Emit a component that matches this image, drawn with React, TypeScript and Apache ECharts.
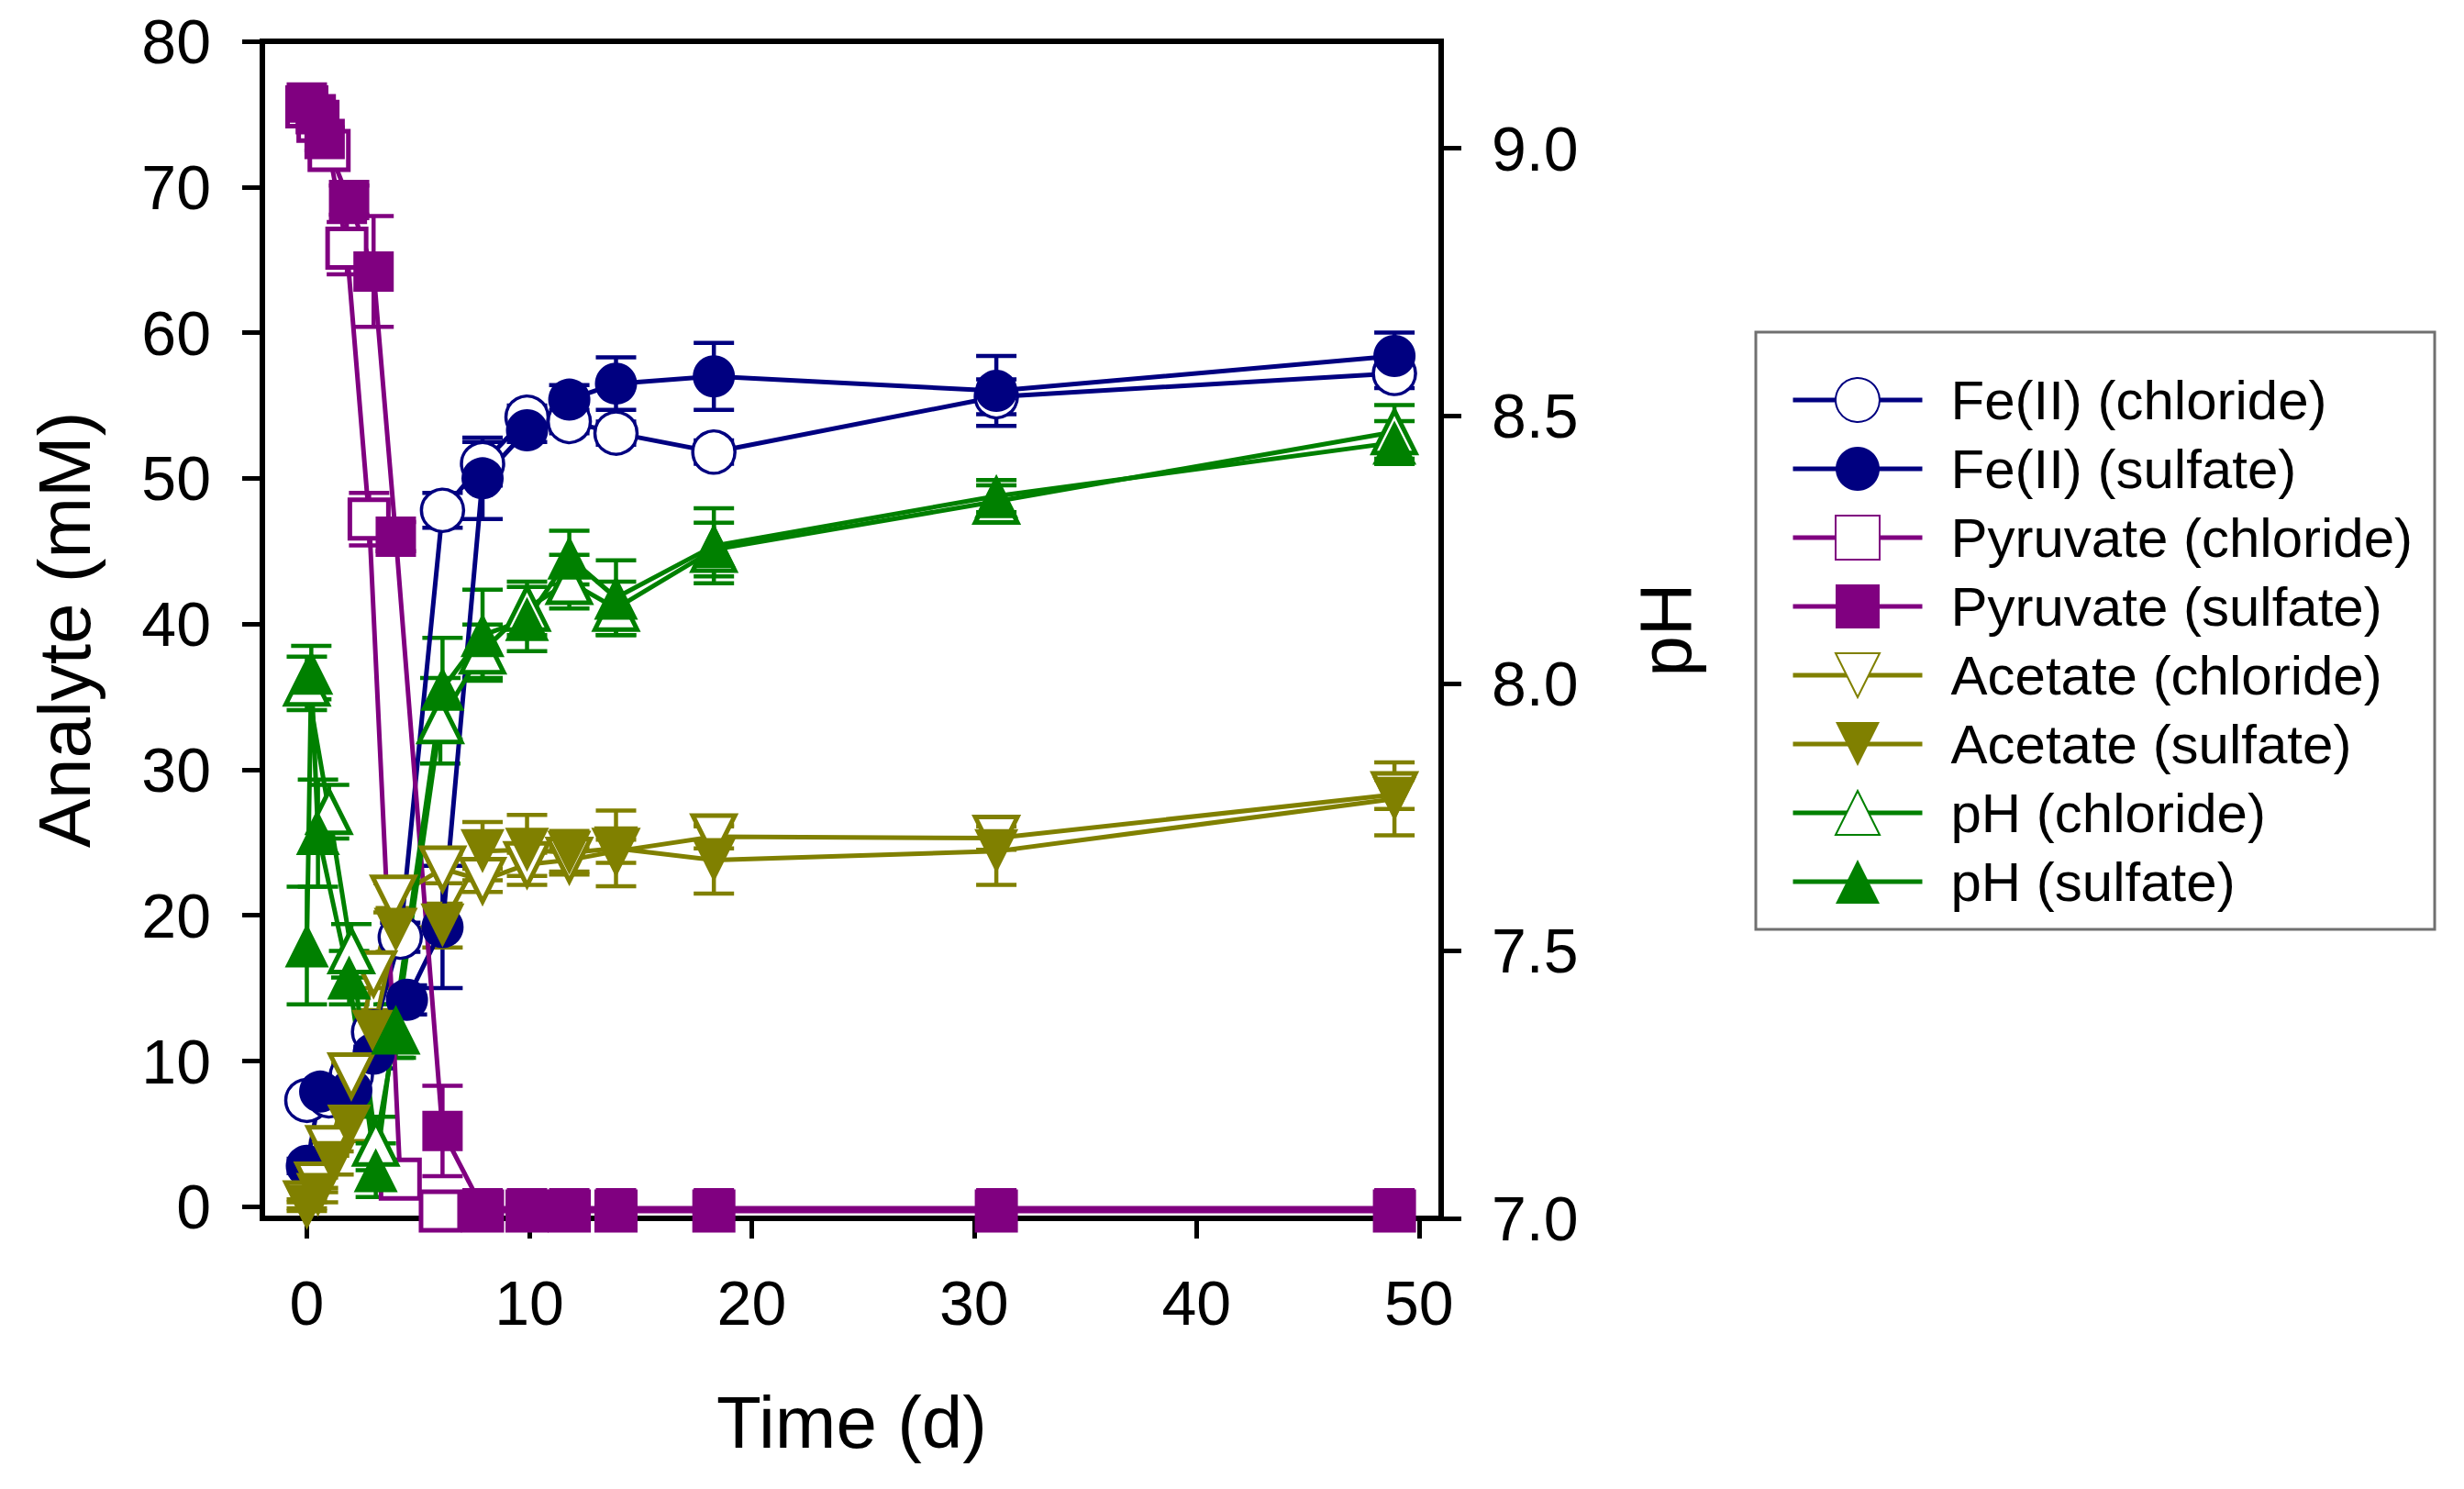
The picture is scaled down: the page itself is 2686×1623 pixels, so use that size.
import React, { useEffect, useRef } from 'react';
import * as echarts from 'echarts';

const NAVY = '#000080';
const PURPLE = '#800080';
const OLIVE = '#808000';
const GREEN = '#008000';
const FONT = '"Liberation Sans", Arial, sans-serif';

const xTicks = [0, 10, 20, 30, 40, 50];
const leftTicks = [0, 10, 20, 30, 40, 50, 60, 70, 80];
const rightTicks = [7.0, 7.5, 8.0, 8.5, 9.0];

// Fe(II) (chloride)
const feClT = [0, 1, 2, 3, 4.2, 6.1, 7.9, 9.9, 11.8, 13.9, 18.3, 31, 48.9];
const feClV = [7.3, 7.6, 9.0, 12.0, 18.5, 47.8, 51.0, 54.2, 53.9, 53.1, 51.8, 55.6, 57.2];
const feClE = [0.5, 0.5, 0.6, 1.0, 1.0, 1.2, 1.5, 0.8, 0.8, 0.8, 0.8, 1.2, 1.0];

// Fe(II) (sulfate)
const feSoT = [0, 0.6, 2, 3, 4.5, 6.1, 7.9, 9.9, 11.8, 13.9, 18.3, 31, 48.9];
const feSoV = [2.8, 7.9, 8.0, 10.5, 14.2, 19.2, 50.0, 53.3, 55.4, 56.5, 57.0, 56.0, 58.4];
const feSoE = [0.5, 0.6, 1.0, 1.0, 1.0, 4.2, 2.8, 0.8, 1.0, 1.8, 2.3, 2.4, 1.6];

// Pyruvate (chloride)
const pyClT = [0, 0.5, 1, 1.8, 2.8, 4.2, 6.0, 7.9, 9.9, 11.8, 13.9, 18.3, 31, 48.9];
const pyClV = [75.5, 74.5, 72.5, 65.8, 47.2, 1.9, -0.3, -0.3, -0.3, -0.3, -0.3, -0.3, -0.3, -0.3];
const pyClE = [0.5, 0.5, 0.8, 1.8, 1.8, 0.8, 0.3, 0.2, 0.2, 0.2, 0.2, 0.2, 0.2, 0.2];

// Pyruvate (sulfate)
const pySoT = [0, 0.4, 0.8, 1.9, 3.0, 4.0, 6.1, 7.9, 9.9, 11.8, 13.9, 18.3, 31, 48.9];
const pySoV = [75.8, 75.0, 73.3, 69.1, 64.2, 46.0, 5.2, -0.1, -0.1, -0.1, -0.1, -0.1, -0.1, -0.1];
const pySoE = [0.5, 0.5, 0.8, 1.0, 3.8, 1.0, 3.1, 0.2, 0.2, 0.2, 0.2, 0.2, 0.2, 0.2];

// Acetate (chloride)
const acClT = [0, 0.5, 1, 2, 3, 3.9, 6.1, 7.9, 9.9, 11.8, 13.9, 18.3, 31, 48.9];
const acClV = [0.2, 1.5, 4.0, 9.0, 16.0, 21.2, 23.2, 22.4, 23.5, 23.8, 24.4, 25.4, 25.3, 28.3];
const acClE = [0.3, 0.5, 0.5, 0.8, 1.0, 1.0, 1.0, 0.8, 0.8, 0.8, 0.8, 0.8, 0.8, 1.0];

// Acetate (sulfate)
const acSoT = [0, 0.5, 1.2, 1.9, 3.0, 4.0, 6.1, 7.9, 9.9, 11.8, 13.9, 18.3, 31, 48.9];
const acSoV = [0, 0.8, 3.0, 5.5, 12.0, 19.0, 19.3, 24.4, 24.5, 24.3, 24.6, 23.8, 24.4, 28.0];
const acSoE = [0.3, 0.5, 0.8, 1.0, 1.5, 1.5, 1.5, 2.0, 2.4, 1.5, 2.6, 2.3, 2.3, 2.5];

// pH (chloride)
const phClT = [0, 1, 2, 3.1, 4, 6.0, 7.9, 9.9, 11.8, 13.9, 18.3, 31, 48.9];
const phClV = [8.0, 7.76, 7.5, 7.14, 7.35, 7.93, 8.06, 8.14, 8.19, 8.14, 8.25, 8.34, 8.47];
const phClE = [0.05, 0.05, 0.05, 0.05, 0.05, 0.08, 0.05, 0.05, 0.05, 0.05, 0.05, 0.03, 0.05];

// pH (sulfate)
const phSoT = [0, 0.2, 0.5, 1.9, 3.1, 3.9, 6.1, 7.9, 9.9, 11.8, 13.9, 18.3, 31, 48.9];
const phSoV = [7.51, 8.02, 7.72, 7.45, 7.09, 7.35, 7.99, 8.09, 8.12, 8.235, 8.16, 8.257, 8.35, 8.45];
const phSoE = [0.11, 0.05, 0.1, 0.05, 0.05, 0.05, 0.095, 0.085, 0.06, 0.05, 0.07, 0.07, 0.03, 0.04];

const pairs = (t: number[], v: number[]) => t.map((x, i) => [x, v[i]]);
const bars = (t: number[], v: number[], e: number[]) => t.map((x, i) => [x, v[i] - e[i], v[i] + e[i]]);

const errorBars = (id: string, t: number[], v: number[], e: number[], color: string, yAxisIndex: number) => ({
  type: 'custom',
  name: id + ' err',
  yAxisIndex,
  silent: true,
  clip: false,
  encode: { x: 0, y: [1, 2] },
  data: bars(t, v, e),
  renderItem: (_params: any, api: any) => {
    const hi = api.coord([api.value(0), api.value(2)]);
    const lo = api.coord([api.value(0), api.value(1)]);
    const w = 22;
    const style = { stroke: color, lineWidth: 4.5 };
    return {
      type: 'group',
      children: [
        { type: 'line', shape: { x1: hi[0], y1: hi[1], x2: lo[0], y2: lo[1] }, style },
        { type: 'line', shape: { x1: hi[0] - w, y1: hi[1], x2: hi[0] + w, y2: hi[1] }, style },
        { type: 'line', shape: { x1: lo[0] - w, y1: lo[1], x2: lo[0] + w, y2: lo[1] }, style },
      ],
    };
  },
});

const lineSeries = (
  name: string,
  t: number[],
  v: number[],
  color: string,
  symbol: string,
  size: number,
  open: boolean,
  yAxisIndex: number,
  rotate = 0,
) => ({
  type: 'line',
  name,
  yAxisIndex,
  data: pairs(t, v),
  symbol,
  symbolSize: size,
  symbolRotate: rotate,
  showAllSymbol: true,
  clip: false,
  lineStyle: { color, width: 5 },
  itemStyle: open
    ? { color: '#ffffff', borderColor: color, borderWidth: symbol === 'circle' ? 3.5 : 5 }
    : { color, borderColor: color, borderWidth: 0 },
});

const App: React.FC = () => {
  const chartRef = useRef<HTMLDivElement>(null);

  useEffect(() => {
    if (!chartRef.current) return;
    const chart = echarts.init(chartRef.current, null, { renderer: 'svg' });

    const axisCommon = {
      axisLine: { show: true, onZero: false, lineStyle: { color: '#000', width: 6 } },
      axisTick: { show: true, inside: false, length: 22, lineStyle: { color: '#000', width: 5 } },
      splitLine: { show: false },
    };

    const option: echarts.EChartsCoreOption = {
      animation: false,
      backgroundColor: '#ffffff',
      textStyle: { fontFamily: FONT },
      grid: {
        left: 286,
        top: 45,
        width: 1285,
        height: 1283,
        show: true,
        borderColor: '#000',
        borderWidth: 6,
        containLabel: false,
      },
      xAxis: {
        type: 'value',
        min: -2,
        max: 51,
        ...axisCommon,
        axisTick: { ...axisCommon.axisTick, customValues: xTicks },
        axisLabel: { customValues: xTicks, margin: 58, fontSize: 68, color: '#000', fontFamily: FONT },
        name: 'Time (d)',
        nameLocation: 'middle',
        nameGap: 182,
        nameTextStyle: { fontSize: 80, color: '#000', fontFamily: FONT },
      },
      yAxis: [
        {
          type: 'value',
          position: 'left',
          min: -0.8,
          max: 80,
          ...axisCommon,
          axisTick: { ...axisCommon.axisTick, customValues: leftTicks },
          axisLabel: { customValues: leftTicks, margin: 56, fontSize: 68, color: '#000', fontFamily: FONT },
          name: 'Analyte (mM)',
          nameLocation: 'middle',
          nameRotate: 90,
          nameGap: 176,
          nameTextStyle: { fontSize: 80, color: '#000', fontFamily: FONT },
        },
        {
          type: 'value',
          position: 'right',
          min: 7,
          max: 9.2,
          ...axisCommon,
          axisTick: { ...axisCommon.axisTick, customValues: rightTicks },
          axisLabel: {
            customValues: rightTicks,
            margin: 55,
            fontSize: 68,
            color: '#000',
            fontFamily: FONT,
            formatter: (v: number) => v.toFixed(1),
          },
          name: 'pH',
          nameLocation: 'middle',
          nameRotate: 90,
          nameGap: 204,
          nameTextStyle: { fontSize: 80, color: '#000', fontFamily: FONT },
        },
      ],
      legend: {
        orient: 'vertical',
        left: 1914,
        top: 362,
        padding: [44, 24, 22, 38],
        itemWidth: 141,
        itemHeight: 60,
        itemGap: 15,
        borderColor: '#707070',
        borderWidth: 3,
        borderRadius: 0,
        selectedMode: false,
        lineStyle: { width: 5 },
        textStyle: { fontSize: 60, lineHeight: 60, color: '#000', fontFamily: FONT, padding: [0, 0, 0, 26] },
        data: [
          'Fe(II) (chloride)',
          'Fe(II) (sulfate)',
          'Pyruvate (chloride)',
          'Pyruvate (sulfate)',
          'Acetate (chloride)',
          'Acetate (sulfate)',
          'pH (chloride)',
          'pH (sulfate)',
        ],
      },
      series: [
        errorBars('feCl', feClT, feClV, feClE, NAVY, 0),
        lineSeries('Fe(II) (chloride)', feClT, feClV, NAVY, 'circle', 46, true, 0),
        errorBars('feSo', feSoT, feSoV, feSoE, NAVY, 0),
        lineSeries('Fe(II) (sulfate)', feSoT, feSoV, NAVY, 'circle', 46, false, 0),
        errorBars('pyCl', pyClT, pyClV, pyClE, PURPLE, 0),
        lineSeries('Pyruvate (chloride)', pyClT, pyClV, PURPLE, 'rect', 42, true, 0),
        errorBars('pySo', pySoT, pySoV, pySoE, PURPLE, 0),
        lineSeries('Pyruvate (sulfate)', pySoT, pySoV, PURPLE, 'rect', 44, false, 0),
        errorBars('acCl', acClT, acClV, acClE, OLIVE, 0),
        lineSeries('Acetate (chloride)', acClT, acClV, OLIVE, 'triangle', 46, true, 0, 180),
        errorBars('acSo', acSoT, acSoV, acSoE, OLIVE, 0),
        lineSeries('Acetate (sulfate)', acSoT, acSoV, OLIVE, 'triangle', 48, false, 0, 180),
        errorBars('phCl', phClT, phClV, phClE, GREEN, 1),
        lineSeries('pH (chloride)', phClT, phClV, GREEN, 'triangle', 46, true, 1),
        errorBars('phSo', phSoT, phSoV, phSoE, GREEN, 1),
        lineSeries('pH (sulfate)', phSoT, phSoV, GREEN, 'triangle', 48, false, 1),
      ],
    };

    chart.setOption(option);
    return () => {
      chart.dispose();
    };
  }, []);

  return (
    <div
      ref={chartRef}
      style={{ position: 'fixed', left: 0, top: 0, width: 2686, height: 1623, background: '#fff' }}
    />
  );
};

export default App;
